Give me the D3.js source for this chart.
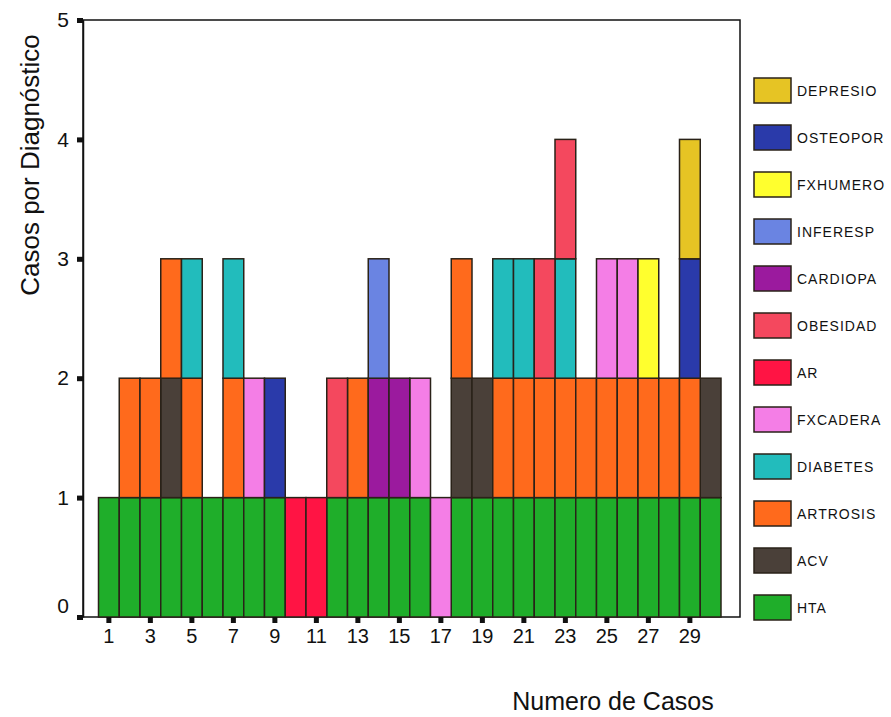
<!DOCTYPE html>
<html><head><meta charset="utf-8">
<script src="https://cdn.jsdelivr.net/npm/d3@7"></script>
<style>body{margin:0;background:#fff}svg{display:block;font-family:"Liberation Sans",Arial,sans-serif}</style>
</head><body><svg id="c" width="891" height="717"></svg>
<script>
const cases = d3.range(1, 31);
const xTickLabels = [1,3,5,7,9,11,13,15,17,19,21,23,25,27,29];
const yTickLabels = [0,1,2,3,4,5];
const diagnoses = ["HTA","ACV","ARTROSIS","DIABETES","FXCADERA","AR","OBESIDAD","CARDIOPA","INFERESP","FXHUMERO","OSTEOPOR","DEPRESIO"];
const colors = ["#1fae2a","#4a4039","#ff6a1c","#22bcbc","#f47ee6","#ff1444","#f4485e","#9b1a9e","#6a84e2","#ffff2e","#2a3aaa","#e6c424"];
// values per case (cases 1..30)
const HTA      = [1,1,1,1,1,1,1,1,1,0,0,1,1,1,1,1,0,1,1,1,1,1,1,1,1,1,1,1,1,1];
const ACV      = [0,0,0,1,0,0,0,0,0,0,0,0,0,0,0,0,0,1,1,0,0,0,0,0,0,0,0,0,0,1];
const ARTROSIS = [0,1,1,1,1,0,1,0,0,0,0,0,1,0,0,0,0,1,0,1,1,1,1,1,1,1,1,1,1,0];
const DIABETES = [0,0,0,0,1,0,1,0,0,0,0,0,0,0,0,0,0,0,0,1,1,0,1,0,0,0,0,0,0,0];
const FXCADERA = [0,0,0,0,0,0,0,1,0,0,0,0,0,0,0,1,1,0,0,0,0,0,0,0,1,1,0,0,0,0];
const AR       = [0,0,0,0,0,0,0,0,0,1,1,0,0,0,0,0,0,0,0,0,0,0,0,0,0,0,0,0,0,0];
const OBESIDAD = [0,0,0,0,0,0,0,0,0,0,0,1,0,0,0,0,0,0,0,0,0,1,1,0,0,0,0,0,0,0];
const CARDIOPA = [0,0,0,0,0,0,0,0,0,0,0,0,0,1,1,0,0,0,0,0,0,0,0,0,0,0,0,0,0,0];
const INFERESP = [0,0,0,0,0,0,0,0,0,0,0,0,0,1,0,0,0,0,0,0,0,0,0,0,0,0,0,0,0,0];
const FXHUMERO = [0,0,0,0,0,0,0,0,0,0,0,0,0,0,0,0,0,0,0,0,0,0,0,0,0,0,1,0,0,0];
const OSTEOPOR = [0,0,0,0,0,0,0,0,1,0,0,0,0,0,0,0,0,0,0,0,0,0,0,0,0,0,0,0,1,0];
const DEPRESIO = [0,0,0,0,0,0,0,0,0,0,0,0,0,0,0,0,0,0,0,0,0,0,0,0,0,0,0,0,1,0];
const seriesValues = [HTA,ACV,ARTROSIS,DIABETES,FXCADERA,AR,OBESIDAD,CARDIOPA,INFERESP,FXHUMERO,OSTEOPOR,DEPRESIO];

const table = cases.map((c, i) => {
  const row = {caso: c};
  diagnoses.forEach((d, j) => row[d] = seriesValues[j][i]);
  return row;
});
const stacked = d3.stack().keys(diagnoses)(table);

const svg = d3.select("#c");
const L = 83, R = 740, T = 20, B = 617;
const x = d3.scaleBand().domain(cases).range([98.5, 721]).padding(0);
const y = d3.scaleLinear().domain([0, 5]).range([B, T]);
const color = d3.scaleOrdinal().domain(diagnoses).range(colors);

// frame
svg.append("rect").attr("x", L).attr("y", T).attr("width", R - L).attr("height", B - T)
  .attr("fill", "none").attr("stroke", "#111").attr("stroke-width", 1.5);

// bars
svg.append("g").selectAll("g").data(stacked).join("g")
  .attr("fill", d => color(d.key))
  .selectAll("rect").data(d => d.filter(s => s[1] > s[0])).join("rect")
  .attr("x", d => x(d.data.caso))
  .attr("width", x.bandwidth())
  .attr("y", d => y(d[1]))
  .attr("height", d => y(d[0]) - y(d[1]))
  .attr("stroke", "#2a2218").attr("stroke-width", 1.5);

// y axis
const yAxis = d3.axisLeft(y).tickValues(yTickLabels).tickFormat(d3.format("d")).tickSize(0).tickPadding(14);
const gy = svg.append("g").attr("transform", `translate(${L},0)`).call(yAxis);
gy.select(".domain").attr("stroke", "#111").attr("stroke-width", 1.5);
gy.selectAll(".tick text").attr("font-size", 21).attr("fill", "#111")
  .attr("font-family", "Liberation Sans, Arial, sans-serif")
  .attr("dy", d => d === 0 ? "-0.22em" : "0.32em");
gy.selectAll(".tick").append("rect").attr("x", -6).attr("y", -2.5).attr("width", 6).attr("height", 5).attr("fill", "#111");

// x axis
const xAxis = d3.axisBottom(x).tickValues(xTickLabels).tickFormat(d3.format("d")).tickSize(0).tickPadding(12);
const gx = svg.append("g").attr("transform", `translate(0,${B})`).call(xAxis);
gx.select(".domain").remove();
gx.selectAll(".tick text").attr("font-size", 20).attr("fill", "#111")
  .attr("font-family", "Liberation Sans, Arial, sans-serif");
gx.selectAll(".tick").append("rect").attr("x", -2.5).attr("y", 0).attr("width", 5).attr("height", 6).attr("fill", "#111");

// axis titles
svg.append("text").attr("transform", "translate(39,165) rotate(-90)")
  .attr("text-anchor", "middle").attr("font-size", 26).attr("fill", "#111")
  .text("Casos por Diagnóstico");
svg.append("text").attr("x", 613).attr("y", 710)
  .attr("text-anchor", "middle").attr("font-size", 25).attr("fill", "#111")
  .text("Numero de Casos");

// legend (top item = last diagnosis)
const legendOrder = d3.range(diagnoses.length).reverse();
const lg = svg.append("g").selectAll("g").data(legendOrder).join("g")
  .attr("transform", (d, i) => `translate(754,${78 + i * 47})`);
lg.append("rect").attr("width", 37).attr("height", 25)
  .attr("fill", d => colors[d]).attr("stroke", "#2a2218").attr("stroke-width", 1.5);
lg.append("text").attr("x", 43).attr("y", 18).attr("font-size", 14).attr("letter-spacing", 1).attr("fill", "#111")
  .text(d => diagnoses[d]);
</script></body></html>
